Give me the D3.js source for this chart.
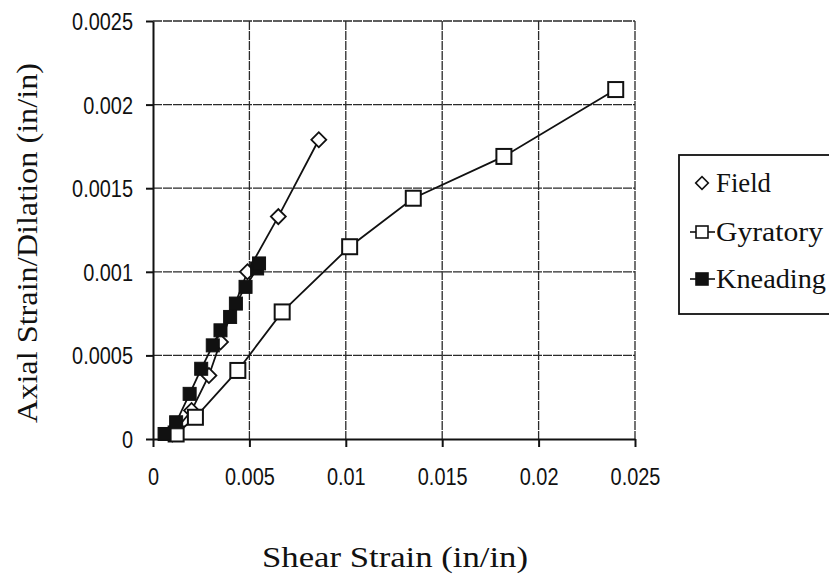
<!DOCTYPE html>
<html><head><meta charset="utf-8">
<script src="https://cdn.jsdelivr.net/npm/d3@7"></script>
<style>
html,body{margin:0;padding:0;background:#fff;}
svg{display:block;}
</style></head>
<body>
<svg id="c" width="829" height="576"></svg>
<script>
// Data
const fieldX = [0.0010, 0.0020, 0.0029, 0.0035, 0.0049, 0.0065, 0.0086];
const fieldY = [0.00003, 0.00017, 0.00038, 0.00058, 0.0010, 0.00133, 0.00179];
const gyrX = [0.0012, 0.0022, 0.0044, 0.0067, 0.0102, 0.0135, 0.0182, 0.0240];
const gyrY = [0.00003, 0.00013, 0.00041, 0.00076, 0.00115, 0.00144, 0.00169, 0.00209];
const kneX = [0.0006, 0.0012, 0.0019, 0.0025, 0.0031, 0.0035, 0.0040, 0.0043, 0.0048, 0.0054, 0.0055];
const kneY = [0.00003, 0.00010, 0.00027, 0.00042, 0.00056, 0.00065, 0.00073, 0.00081, 0.00091, 0.00102, 0.00105];
const xTicks = [0, 0.005, 0.01, 0.015, 0.02, 0.025];
const xTickLabels = ["0", "0.005", "0.01", "0.015", "0.02", "0.025"];
const yTicks = [0, 0.0005, 0.001, 0.0015, 0.002, 0.0025];
const yTickLabels = ["0", "0.0005", "0.001", "0.0015", "0.002", "0.0025"];
const seriesNames = ["Field", "Gyratory", "Kneading"];

const svg = d3.select("#c");
const L = 153, R = 635, T = 21, B = 439;
const x = d3.scaleLinear().domain([0, 0.025]).range([L, R]);
const y = d3.scaleLinear().domain([0, 0.0025]).range([B, T]);
const ink = "#111";
const tickFont = "'Liberation Sans', Arial, sans-serif";
const serif = "'Liberation Serif', 'Times New Roman', serif";

function squeeze(sel, f) {
  sel.each(function () {
    const w = this.getComputedTextLength();
    d3.select(this).attr("textLength", w * f).attr("lengthAdjust", "spacingAndGlyphs");
  });
}

// gridlines
const g = svg.append("g");
g.selectAll(".hg").data(yTicks.slice(1)).join("line")
  .attr("x1", L).attr("x2", R).attr("y1", d => y(d)).attr("y2", d => y(d))
  .attr("stroke", "#2a2a2a").attr("stroke-width", 1.3).attr("stroke-dasharray", "9,1");
g.selectAll(".vg").data(xTicks.slice(1)).join("line")
  .attr("y1", T).attr("y2", B).attr("x1", d => x(d)).attr("x2", d => x(d))
  .attr("stroke", "#2a2a2a").attr("stroke-width", 1.3).attr("stroke-dasharray", "9,1");

// axes
const xAxis = d3.axisBottom(x).tickValues(xTicks).tickSize(8).tickSizeOuter(0)
  .tickFormat((d, i) => xTickLabels[i]);
const gx = svg.append("g").attr("transform", `translate(0,${B})`).call(xAxis);
gx.select(".domain").attr("stroke", ink).attr("stroke-width", 2);
gx.selectAll(".tick line").attr("stroke", ink).attr("stroke-width", 2);
gx.selectAll(".tick text").attr("fill", ink).attr("font-family", tickFont)
  .attr("font-size", 24).attr("dy", 0).attr("y", 46).call(squeeze, 0.83);

const yAxis = d3.axisLeft(y).tickValues(yTicks).tickSize(7).tickSizeOuter(0)
  .tickFormat((d, i) => yTickLabels[i]);
const gy = svg.append("g").attr("transform", `translate(${L},0)`).call(yAxis);
gy.select(".domain").attr("stroke", ink).attr("stroke-width", 2);
gy.selectAll(".tick line").attr("stroke", ink).attr("stroke-width", 2);
gy.selectAll(".tick text").attr("fill", ink).attr("font-family", tickFont)
  .attr("font-size", 24).attr("x", -20).attr("dy", "0.35em").call(squeeze, 0.83);

// series
const line = d3.line().x(d => x(d[0])).y(d => y(d[1]));
const field = fieldX.map((v, i) => [v, fieldY[i]]);
const gyr = gyrX.map((v, i) => [v, gyrY[i]]);
const kne = kneX.map((v, i) => [v, kneY[i]]);

// Field
svg.append("path").datum(field).attr("d", line).attr("fill", "none").attr("stroke", ink).attr("stroke-width", 1.8);
svg.selectAll(".fd").data(field).join("path")
  .attr("d", d3.symbol().type(d3.symbolSquare).size(112))
  .attr("transform", d => `translate(${x(d[0])},${y(d[1])}) rotate(45)`)
  .attr("fill", "#fff").attr("stroke", ink).attr("stroke-width", 1.8);

// Gyratory
svg.append("path").datum(gyr).attr("d", line).attr("fill", "none").attr("stroke", ink).attr("stroke-width", 1.8);
svg.selectAll(".gs").data(gyr).join("rect")
  .attr("x", d => x(d[0]) - 7.5).attr("y", d => y(d[1]) - 7.5)
  .attr("width", 15).attr("height", 15)
  .attr("fill", "#fff").attr("stroke", ink).attr("stroke-width", 2);

// Kneading
svg.append("path").datum(kne).attr("d", line).attr("fill", "none").attr("stroke", ink).attr("stroke-width", 1.8);
svg.selectAll(".ks").data(kne).join("rect")
  .attr("x", d => x(d[0]) - 6.5).attr("y", d => y(d[1]) - 6.5)
  .attr("width", 13).attr("height", 13)
  .attr("fill", ink).attr("stroke", ink).attr("stroke-width", 1);

// axis titles
svg.append("text").attr("x", 395).attr("y", 567).attr("text-anchor", "middle")
  .attr("font-family", serif).attr("font-size", 30).attr("fill", ink)
  .attr("textLength", 266).attr("lengthAdjust", "spacingAndGlyphs")
  .text("Shear Strain (in/in)");
svg.append("text").attr("transform", "translate(37,243) rotate(-90)").attr("text-anchor", "middle")
  .attr("font-family", serif).attr("font-size", 30).attr("fill", ink)
  .attr("textLength", 360).attr("lengthAdjust", "spacingAndGlyphs")
  .text("Axial Strain/Dilation (in/in)");

// legend
const lg = svg.append("g");
lg.append("rect").attr("x", 679).attr("y", 155).attr("width", 200).attr("height", 159)
  .attr("fill", "#fff").attr("stroke", ink).attr("stroke-width", 1.8);
const ly = [183, 232, 279];
const lt = [192, 241, 288];
const lw = [55, 107, 110];
seriesNames.forEach((name, i) => {
  const cx = 702, cy = ly[i];
  if (i === 0) {
    lg.append("path").attr("d", d3.symbol().type(d3.symbolSquare).size(80))
      .attr("transform", `translate(${cx},${cy}) rotate(45)`)
      .attr("fill", "#fff").attr("stroke", ink).attr("stroke-width", 1.6);
  } else {
    lg.append("line").attr("x1", 690).attr("x2", 715).attr("y1", cy).attr("y2", cy)
      .attr("stroke", ink).attr("stroke-width", 1.6);
    lg.append("rect").attr("x", cx - 6).attr("y", cy - 6).attr("width", 12).attr("height", 12)
      .attr("fill", i === 1 ? "#fff" : ink).attr("stroke", ink).attr("stroke-width", 1.6);
  }
  lg.append("text").attr("x", 716).attr("y", lt[i]).attr("font-family", serif)
    .attr("font-size", 28).attr("fill", ink)
    .attr("textLength", lw[i]).attr("lengthAdjust", "spacingAndGlyphs").text(name);
});
</script>
</body></html>
